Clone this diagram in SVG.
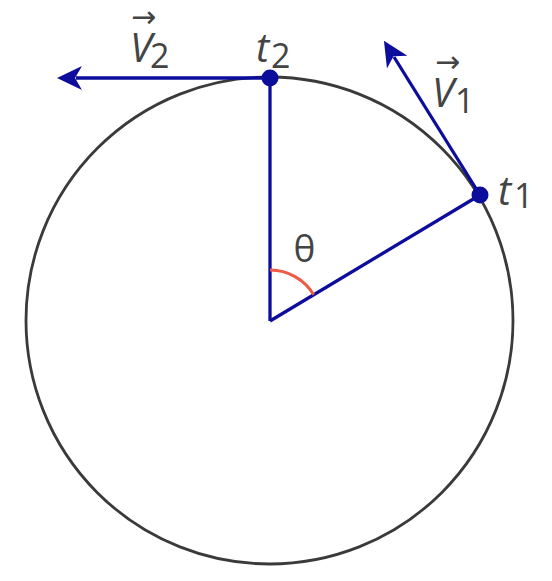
<svg xmlns="http://www.w3.org/2000/svg" width="552" height="581" viewBox="0 0 552 581">
  <style>
    .lbl { font-family: "Open Sans", "DejaVu Sans", sans-serif; fill: #444; }
    .it { font-style: italic; font-size: 40px; }
    .sub { font-size: 34px; }
    .vec { font-family: "DejaVu Sans", sans-serif; font-size: 30px; fill: #444; }
    .blue { stroke: #0d0d9c; stroke-width: 3.3; fill: none; }
  </style>
  <defs>
    <marker id="ah" markerUnits="userSpaceOnUse" markerWidth="40" markerHeight="40" viewBox="-10 -20 40 40" refX="0" refY="0" orient="auto" overflow="visible">
      <path d="M19,0 L-6,-12 L1,0 L-6,12 Z" fill="#0d0d9c"/>
    </marker>
  </defs>
  <rect width="552" height="581" fill="#ffffff"/>
  <g id="circle">
    <circle cx="269.5" cy="320.5" r="243.5" fill="none" stroke="#3a3a3a" stroke-width="2.8"/>
  </g>
  <g id="connectors">
    <line class="blue" x1="270" y1="321" x2="270" y2="78"/>
    <line class="blue" x1="270" y1="321" x2="480" y2="195"/>
    <line class="blue" x1="270" y1="78" x2="76" y2="78" marker-end="url(#ah)"/>
    <line class="blue" x1="480" y1="195" x2="394" y2="57" marker-end="url(#ah)"/>
    <path d="M270,270 A51,51 0 0 1 313.7,294.7" fill="none" stroke="#ee5a45" stroke-width="3"/>
  </g>
  <g id="t2">
    <circle cx="270" cy="78" r="8.5" fill="#0d0d9c"/>
    <text class="lbl it" x="256" y="62">t</text>
    <text class="lbl sub" x="271" y="68">2</text>
  </g>
  <g id="t1">
    <circle cx="480" cy="195" r="8.5" fill="#0d0d9c"/>
    <text class="lbl it" x="498" y="205">t</text>
    <text class="lbl sub" x="514" y="208">1</text>
  </g>
  <g id="v2">
    <text class="vec" x="131" y="27">→</text>
    <text class="lbl it" x="130" y="62">V</text>
    <text class="lbl sub" x="150" y="68">2</text>
  </g>
  <g id="v1">
    <text class="vec" x="435" y="72">→</text>
    <text class="lbl it" x="432" y="107">V</text>
    <text class="lbl sub" x="455" y="113">1</text>
  </g>
  <g id="theta">
    <text class="lbl" x="304.5" y="262" font-size="37" text-anchor="middle">θ</text>
  </g>
</svg>
